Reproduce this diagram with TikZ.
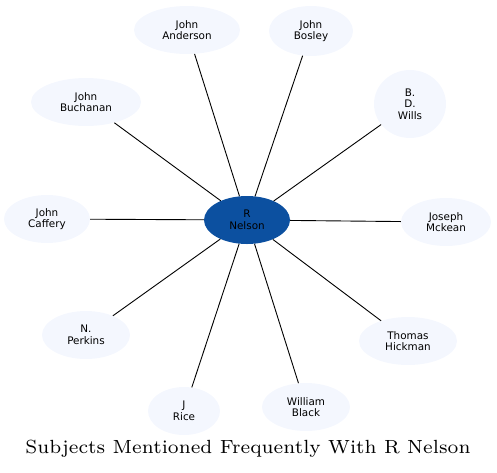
\documentclass[tikz,border=0pt]{standalone}
\usepackage{fontspec}
\usetikzlibrary{shapes.geometric}
\newfontfamily\nodefont{DejaVu Sans}
\definecolor{outerfill}{RGB}{244,247,254}
\definecolor{centerfill}{RGB}{12,80,160}
\tikzset{
  subj/.style={ellipse, fill=outerfill, draw=none, inner sep=0pt, align=center,
    font=\nodefont\fontsize{10.4}{11.5}\selectfont, text=black},
  hub/.style={ellipse, fill=centerfill, draw=none, inner sep=0pt, align=center,
    font=\nodefont\fontsize{10.4}{11.5}\selectfont, text=black},
  link/.style={draw=black, line width=0.9pt}
}
\begin{document}
\begin{tikzpicture}[x=1pt,y=-1pt]
\useasboundingbox (0,0) rectangle (497,472);
\node[hub, minimum width=86pt, minimum height=48pt] (c) at (247,220) {R\\Nelson};
\node[subj, minimum width=106pt, minimum height=48pt] (a1) at (187,30) {John\\Anderson};
\node[subj, minimum width=84pt, minimum height=50pt] (a2) at (311,31) {John\\Bosley};
\node[subj, minimum width=72pt, minimum height=68pt] (a3) at (410,104) {B.\\D.\\Wills};
\node[subj, minimum width=90pt, minimum height=48pt] (a4) at (446,222) {Joseph\\Mckean};
\node[subj, minimum width=98pt, minimum height=48pt] (a5) at (408,341) {Thomas\\Hickman};
\node[subj, minimum width=88pt, minimum height=48pt] (a6) at (306,407) {William\\Black};
\node[subj, minimum width=72pt, minimum height=48pt] (a7) at (184,411) {J\\Rice};
\node[subj, minimum width=88pt, minimum height=48pt] (a8) at (86,335) {N.\\Perkins};
\node[subj, minimum width=86pt, minimum height=48pt] (a9) at (47,219) {John\\Caffery};
\node[subj, minimum width=110pt, minimum height=48pt] (a10) at (86,102) {John\\Buchanan};
\foreach \n in {a1,a2,a3,a4,a5,a6,a7,a8,a9,a10} \draw[link] (c) -- (\n);
\node[font=\fontsize{7}{8}\selectfont, inner sep=0pt, scale=2.72] (title) at (248,449) {Subjects Mentioned Frequently With R Nelson};
\end{tikzpicture}
\end{document}
